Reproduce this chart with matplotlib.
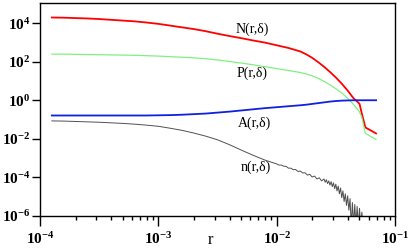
import numpy as np
import matplotlib
matplotlib.use("Agg")
import matplotlib.pyplot as plt

plt.rcParams['mathtext.fontset'] = 'custom'
plt.rcParams['mathtext.rm'] = 'Liberation Serif:bold'
plt.rcParams['mathtext.it'] = 'Liberation Serif:bold'
plt.rcParams['mathtext.bf'] = 'Liberation Serif:bold'

# log10 of r for the smooth curves
logr = [-3.9, -3.8, -3.7, -3.6, -3.5, -3.4, -3.3, -3.2, -3.1, -3.0, -2.9, -2.8,
        -2.7, -2.6, -2.5, -2.4, -2.3, -2.2, -2.1, -2.0, -1.9, -1.8, -1.75, -1.7,
        -1.65, -1.6, -1.55, -1.5, -1.45, -1.4, -1.35, -1.3, -1.28, -1.25, -1.16]
logN = [4.29, 4.28, 4.26, 4.24, 4.21, 4.17, 4.13, 4.09, 4.03, 3.96, 3.87, 3.78,
        3.69, 3.58, 3.45, 3.33, 3.22, 3.10, 2.99, 2.85, 2.71, 2.53, 2.38, 2.20,
        1.98, 1.74, 1.47, 1.18, 0.86, 0.50, 0.10, -0.18, -0.70, -1.41, -1.72]
logP = [2.39, 2.39, 2.38, 2.37, 2.36, 2.35, 2.34, 2.33, 2.31, 2.29, 2.26, 2.23,
        2.20, 2.15, 2.09, 2.01, 1.93, 1.84, 1.74, 1.64, 1.54, 1.44, 1.36, 1.27,
        1.14, 0.98, 0.80, 0.60, 0.38, 0.10, -0.22, -0.60, -0.90, -1.72, -2.03]
logA = [-0.79, -0.79, -0.79, -0.79, -0.79, -0.79, -0.79, -0.79, -0.79, -0.78, -0.77, -0.75,
        -0.72, -0.69, -0.64, -0.59, -0.53, -0.47, -0.41, -0.36, -0.31, -0.26, -0.23, -0.19,
        -0.15, -0.11, -0.07, -0.04, -0.02, -0.01, 0.0, 0.0, 0.0, 0.0, 0.0]

# n(r, delta): smooth part then noisy tail
logr_n = [-3.9, -3.8, -3.7, -3.6, -3.5, -3.4, -3.3, -3.2, -3.1, -3.0, -2.9, -2.8,
          -2.7, -2.6, -2.5, -2.4, -2.3, -2.2, -2.1,
          -2.00, -1.98, -1.96, -1.94, -1.92, -1.90, -1.88, -1.86, -1.84, -1.82,
          -1.80, -1.78, -1.76, -1.74, -1.72, -1.70, -1.68, -1.66, -1.64, -1.62,
          -1.60, -1.59, -1.58, -1.57, -1.56, -1.55, -1.54, -1.53, -1.52, -1.51,
          -1.50, -1.49, -1.48, -1.47, -1.46, -1.45, -1.44, -1.43, -1.42, -1.41,
          -1.40, -1.39, -1.38, -1.37, -1.36, -1.35, -1.34, -1.33, -1.32, -1.31,
          -1.30, -1.29, -1.28, -1.27]
logn = [-1.07, -1.08, -1.10, -1.12, -1.14, -1.17, -1.20, -1.24, -1.29, -1.35, -1.45, -1.56,
        -1.70, -1.86, -2.05, -2.30, -2.58, -2.85, -3.10,
        -3.30, -3.36, -3.36, -3.42, -3.43, -3.52, -3.52, -3.60, -3.59, -3.69,
        -3.67, -3.77, -3.76, -3.88, -3.84, -3.98, -3.93, -4.08, -4.02, -4.18,
        -4.08, -4.25, -4.12, -4.32, -4.18, -4.40, -4.22, -4.48, -4.28, -4.58,
        -4.35, -4.70, -4.45, -4.85, -4.55, -5.05, -4.70, -5.25, -4.85, -5.45,
        -4.95, -5.70, -5.10, -6.50, -5.30, -6.50, -5.40, -6.50, -5.50, -6.50,
        -5.60, -6.50, -5.80, -6.50]

labels = ["N(r,δ)", "P(r,δ)", "A(r,δ)", "n(r,δ)"]
label_logx = [-2.21, -2.21, -2.19, -2.18]
label_logy = [3.69, 1.42, -1.21, -3.47]

r = 10.0 ** np.array(logr)
N = 10.0 ** np.array(logN)
P = 10.0 ** np.array(logP)
A = 10.0 ** np.array(logA)
rn = 10.0 ** np.array(logr_n)
n = 10.0 ** np.array(logn)

fig = plt.figure(figsize=(4.09, 2.49), dpi=100)
ax = fig.add_axes([40/409, 1-216/249, 355/409, 213/249])

ax.plot(r, N, color='#ff0000', lw=1.3)
ax.plot(r, P, color='#80f080', lw=0.9)
ax.plot(r, A, color='#1020e0', lw=1.3)
ax.plot(rn, n, color='#505050', lw=0.7)

ax.set_xscale('log')
ax.set_yscale('log')
ax.set_xlim(1e-4, 1e-1)
ax.set_ylim(1e-6, 1.1e5)

ax.set_xticks([1e-4, 1e-3, 1e-2, 1e-1])
ax.set_xticklabels([r'$10^{-4}$', r'$10^{-3}$', r'$10^{-2}$', r'$10^{-1}$'])
ax.set_yticks([1e-6, 1e-4, 1e-2, 1e0, 1e2, 1e4])
ax.set_yticklabels([r'$10^{-6}$', r'$10^{-4}$', r'$10^{-2}$', r'$10^{0}$', r'$10^{2}$', r'$10^{4}$'])
ax.yaxis.set_minor_locator(matplotlib.ticker.NullLocator())
ax.xaxis.set_minor_locator(matplotlib.ticker.LogLocator(base=10, subs=np.arange(2, 10)))
ax.xaxis.set_minor_formatter(matplotlib.ticker.NullFormatter())
ax.tick_params(axis='x', which='major', direction='out', length=7, width=1, labelsize=11, pad=4)
ax.tick_params(axis='x', which='minor', direction='out', length=3, width=1)
ax.tick_params(axis='y', which='major', direction='out', length=6, width=1, labelsize=11, pad=1)
for s in ax.spines.values():
    s.set_linewidth(1.0)

for t, lx, ly in zip(labels, label_logx, label_logy):
    ax.text(10**lx, 10**ly, t, ha='center', va='center', fontsize=10,
            family='Liberation Serif')

ax.annotate('r', xy=(10**-2.56, 0), xycoords=('data', 'axes fraction'),
            xytext=(0, -17), textcoords='offset points', ha='center', va='center',
            fontsize=12, family='Liberation Serif')

fig.savefig('out.png', dpi=100)
